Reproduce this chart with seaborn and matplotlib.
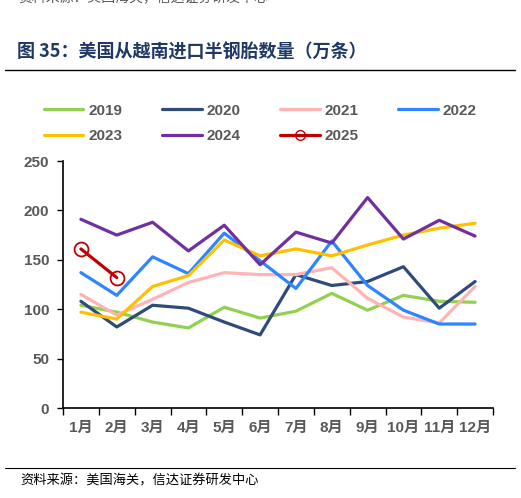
import numpy as np
import pandas as pd
import matplotlib
matplotlib.use("Agg")
import matplotlib.pyplot as plt
import seaborn as sns
from matplotlib.lines import Line2D

months = ["1月", "2月", "3月", "4月", "5月", "6月", "7月", "8月", "9月", "10月", "11月", "12月"]
y2019 = [104, 97, 87, 81, 102, 91, 98, 116, 99, 114, 108, 107]
y2020 = [108, 82, 104, 101, 87, 74, 135, 124, 128, 143, 101, 128]
y2021 = [115, 94, 110, 127, 137, 135, 135, 142, 111, 92, 86, 123]
y2022 = [137, 114, 153, 136, 177, 149, 121, 169, 124, 99, 85, 85]
y2023 = [97, 90, 123, 134, 170, 154, 161, 154, 165, 175, 182, 187]
y2024 = [191, 175, 188, 159, 185, 145, 178, 167, 213, 171, 190, 174]
y2025 = [161, 132]

years = ["2019", "2020", "2021", "2022", "2023", "2024", "2025"]
series = [y2019, y2020, y2021, y2022, y2023, y2024, y2025]
colors = {"2019": "#92D050", "2020": "#2F4B7C", "2021": "#FFB3B5",
          "2022": "#2E86FF", "2023": "#FFC000", "2024": "#7030A0", "2025": "#C00000"}

rows = []
for yr, vals in zip(years, series):
    for i, v in enumerate(vals):
        rows.append({"year": yr, "month": i, "value": v})
df = pd.DataFrame(rows)

sns.set_theme(style="white")
plt.rcParams['font.family'] = ['Liberation Sans', 'Noto Sans CJK SC', 'DejaVu Sans']

fig = plt.figure(figsize=(5.21, 4.98), dpi=100)
ax = fig.add_axes([63/521, 1-408/498, (493-63)/521, (408-161)/498])

main = df[df["year"] != "2025"]
sns.lineplot(data=main, x="month", y="value", hue="year", palette=colors,
             linewidth=2.3, ax=ax, legend=False)
sns.lineplot(data=df[df["year"] == "2025"], x="month", y="value", color=colors["2025"],
             linewidth=2.3, marker="o", markersize=10, markerfacecolor="none",
             markeredgecolor=colors["2025"], markeredgewidth=1.3, ax=ax, legend=False)

ax.set_xlim(-0.5, 11.5)
ax.set_ylim(0, 250)
ax.set_xticks(range(12))
ax.set_xticklabels(months)
ax.set_xticks(np.arange(-0.5, 12, 1), minor=True)
ax.set_yticks([0, 50, 100, 150, 200, 250])
ax.tick_params(axis="x", which="major", length=0, pad=9)
ax.tick_params(axis="x", which="minor", length=5, width=1, color="black", direction="out", bottom=True)
ax.tick_params(axis="y", length=4, width=1, color="black", direction="out", left=True, pad=6)
for lab in ax.get_xticklabels() + ax.get_yticklabels():
    lab.set_color("#595959")
    lab.set_fontsize(11)
    lab.set_fontweight("bold")
ax.set_xlabel("")
ax.set_ylabel("")
for s in ["top", "right"]:
    ax.spines[s].set_visible(False)
for s in ["left", "bottom"]:
    ax.spines[s].set_color("black")
    ax.spines[s].set_linewidth(1.2)

# legend fills column by column, so order the entries to read row by row
leg_order = ["2019", "2023", "2020", "2024", "2021", "2025", "2022"]
handles = []
for yr in leg_order:
    if yr == "2025":
        handles.append(Line2D([], [], color=colors[yr], linewidth=2.3, marker="o", markersize=7,
                              markerfacecolor="none", markeredgecolor=colors[yr]))
    else:
        handles.append(Line2D([], [], color=colors[yr], linewidth=2.3))
leg = fig.legend(handles, leg_order, ncol=4, loc="upper left", bbox_to_anchor=(30/521, 1-90/498),
                 frameon=False, handlelength=2.6, handletextpad=0.3, columnspacing=2.6,
                 labelspacing=0.75, prop={"size": 11, "weight": "bold"})
for t in leg.get_texts():
    t.set_color("#595959")

fig.text(17/521, 1-52/498, "图 35：美国从越南进口半钢胎数量（万条）", fontsize=13, fontweight="bold",
         color="#1F3864", va="center", ha="left", family=['Noto Sans CJK SC', 'DejaVu Sans'])
fig.text(18/521, 1+3/498, "资料来源：美国海关，信达证券研发中心", fontsize=10, color="#595959",
         va="center", ha="left", family=['Noto Sans CJK SC', 'DejaVu Sans'])
fig.text(20/521, 1-481/498, "资料来源：美国海关，信达证券研发中心", fontsize=9.5, color="black",
         va="center", ha="left", style="italic", family=['Noto Sans CJK SC', 'DejaVu Sans'])
fig.add_artist(Line2D([5/521, 515/521], [1-70/498, 1-70/498], color="black", linewidth=1))
fig.add_artist(Line2D([5/521, 515/521], [1-468/498, 1-468/498], color="black", linewidth=0.8))

fig.savefig("out.png", dpi=100)
